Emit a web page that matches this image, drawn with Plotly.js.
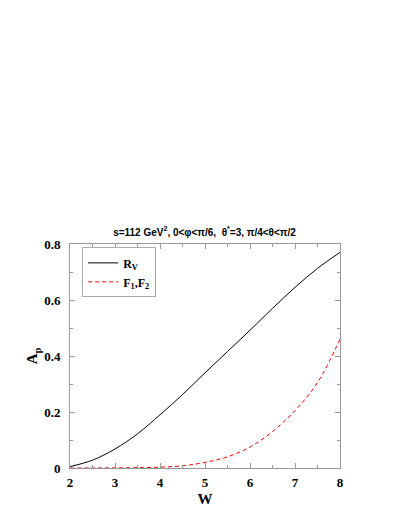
<!DOCTYPE html>
<html><head><meta charset="utf-8">
<script src="https://cdn.plot.ly/plotly-3.0.1.min.js"></script>
<style>html,body{margin:0;padding:0;background:#fff}</style>
</head><body><div id="chart" style="width:409px;height:529px"></div>
<script>
const W = [2, 2.5, 3, 3.5, 4, 4.5, 5, 5.5, 6, 6.5, 7, 7.5, 8];
const RV = [0.005, 0.028, 0.068, 0.122, 0.19, 0.262, 0.34, 0.416, 0.492, 0.57, 0.645, 0.713, 0.77];
const F12 = [0, 0, 0.0005, 0.001, 0.003, 0.008, 0.02, 0.04, 0.075, 0.13, 0.205, 0.305, 0.46];
const xTicks = [2, 3, 4, 5, 6, 7, 8];
const yTicks = [0, 0.2, 0.4, 0.6, 0.8];
const yTickText = ['0', '0.2', '0.4', '0.6', '0.8'];

const font = {family: 'Liberation Serif, Times New Roman, serif', color: '#000'};
const traces = [
  {x: W, y: RV, mode: 'lines', name: 'R<sub>V</sub>', line: {color: '#000', width: 1, shape: 'spline', smoothing: 1}},
  {x: W, y: F12, mode: 'lines', name: 'F<sub>1</sub>,F<sub>2</sub>', line: {color: '#ff0000', width: 1, dash: '4px,3px', shape: 'spline', smoothing: 1}}
];
const axisCommon = {
  showgrid: false, zeroline: false, showline: true, linecolor: '#999', linewidth: 1,
  mirror: 'ticks', ticks: 'inside', ticklen: 5, tickcolor: '#999',
  tickfont: Object.assign({}, font, {size: 13, weight: 'bold'})
};
const layout = {
  width: 409, height: 529,
  margin: {l: 70, r: 69, t: 244, b: 61},
  paper_bgcolor: '#fff', plot_bgcolor: '#fff',
  showlegend: true,
  title: {text: '<b>s=112 GeV<sup>2</sup>, 0&lt;φ&lt;π/6,  θ<sup>*</sup>=3, π/4&lt;θ&lt;π/2</b>', font: Object.assign({}, font, {size: 10, family: 'Liberation Sans, Arial, sans-serif'}), x: 0.5, xanchor: 'center', y: 1 - 232/529, yanchor: 'middle'},
  xaxis: Object.assign({}, axisCommon, {
    range: [2, 8], tickvals: xTicks, ticklabelstandoff: 2,
    minor: {dtick: 0.5, ticks: 'inside', ticklen: 3, tickcolor: '#999'},
    title: {text: '<b>W</b>', font: Object.assign({}, font, {size: 15}), standoff: 4}
  }),
  yaxis: Object.assign({}, axisCommon, {
    range: [0, 0.8], tickvals: yTicks, ticktext: yTickText, ticklabelstandoff: 6,
    minor: {dtick: 0.1, ticks: 'inside', ticklen: 3, tickcolor: '#999'},
    title: {text: '<b>A<sub>p</sub></b>', font: Object.assign({}, font, {size: 15}), standoff: 2}
  }),
  legend: {x: 0.045, y: 0.985, xanchor: 'left', yanchor: 'top', bgcolor: '#fff', bordercolor: '#aaa', borderwidth: 1,
    font: Object.assign({}, font, {size: 12, weight: 'bold'}), tracegroupgap: 0, itemwidth: 30}
};
Plotly.newPlot('chart', traces, layout, {displayModeBar: false, staticPlot: true});
</script></body></html>
